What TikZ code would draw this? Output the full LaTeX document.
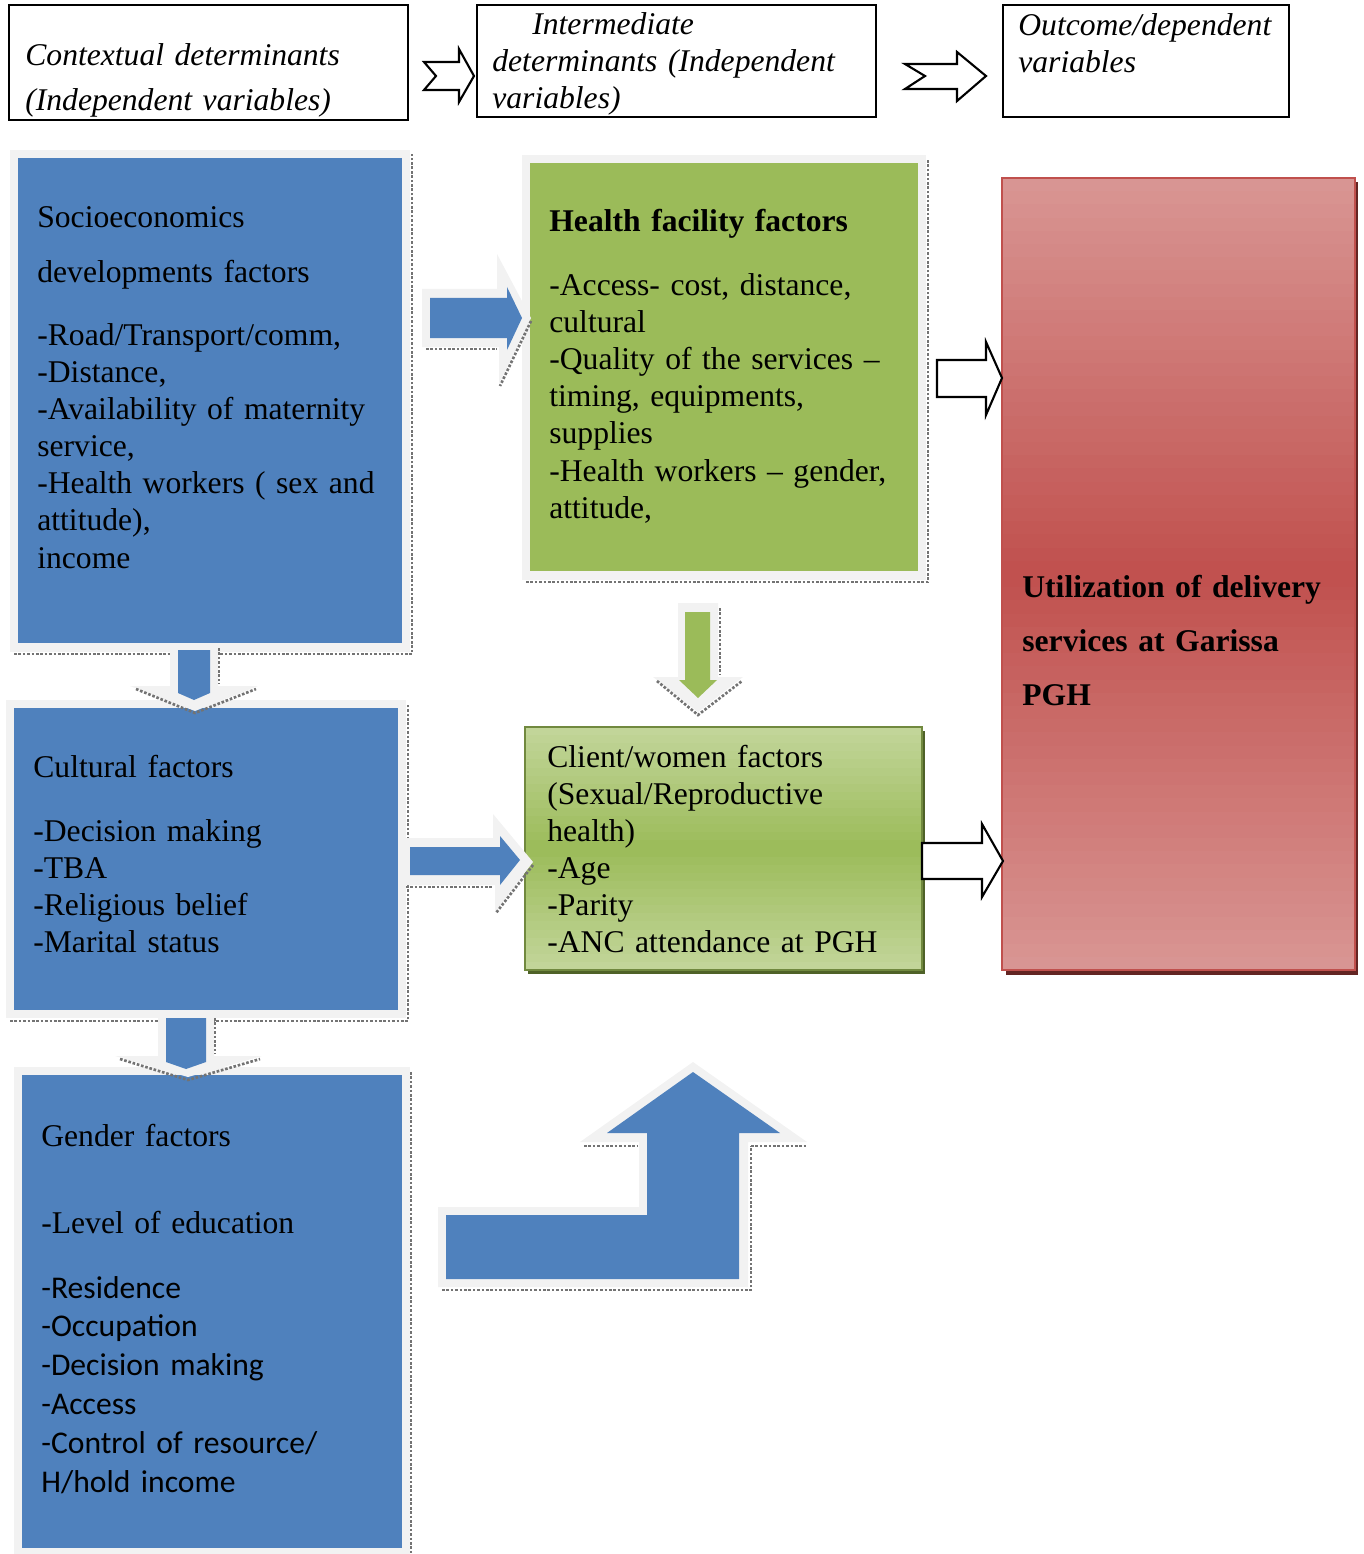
\documentclass[tikz,border=0pt]{standalone}
\usepackage{fontspec}
\setmainfont{Liberation Serif}
\newfontfamily\calibrifont{Carlito}
\definecolor{boxblue}{HTML}{4F81BD}
\definecolor{framegrey}{HTML}{F2F2F2}
\definecolor{boxgreen}{HTML}{9BBB59}
\definecolor{lightgreen}{HTML}{C3D69B}
\definecolor{greenedge}{HTML}{71893F}
\definecolor{darkgreen}{HTML}{4F6228}
\definecolor{lightred}{HTML}{D99694}
\definecolor{midred}{HTML}{C0504D}
\definecolor{darkred}{HTML}{632523}
\begin{document}
\begin{tikzpicture}[x=0.02cm, y=-0.02cm,
  txt/.style={anchor=base west, inner sep=0pt, text width=8cm, align=left,
    font=\fontsize{18pt}{21.06pt}\selectfont},
  italictxt/.style={txt, font=\fontsize{18pt}{21.06pt}\selectfont\itshape},
  headbox/.style={draw=black, line width=1.5pt},
  hollowarrow/.style={draw=black, line width=1.2pt, fill=white, line join=miter},
  glow/.style={fill=framegrey},
  shadowline/.style={densely dotted, line width=1.5pt, black!55}]

\useasboundingbox (0,0) rectangle (1364,1554);

% heading row
\draw[headbox] (9,5) rectangle (408,120);
\draw[headbox] (477,5) rectangle (876,117);
\draw[headbox] (1003,5) rectangle (1289,117);
\node[italictxt] (context) at (25,66) {Contextual determinants\\[0.16cm](Independent variables)};
\node[italictxt] (intermediate) at (492,35) {\hspace*{0.8cm}Intermediate\\determinants (Independent\\variables)};
\node[italictxt] (outcome) at (1018,36) {Outcome/dependent\\variables};
\draw[hollowarrow] (424,62) -- (459,62) -- (459,49) -- (474,76) -- (459,102) -- (459,90) -- (424,90) -- (436,76) -- cycle;
\draw[hollowarrow] (905,64) -- (957,64) -- (957,52) -- (986,76) -- (957,101) -- (957,89) -- (905,89) -- (925,76) -- cycle;

% contextual boxes
\fill[glow] (10,150) rectangle (410,652);
\draw[shadowline] (14,654) -- (412,654) -- (412,154);
\fill[boxblue] (18,158) rectangle (402,643);
\node[txt] (socio) at (37,228) {Socioeconomics\\[0.36cm]developments factors\\[0.52cm]-Road/Transport/comm,\\-Distance,\\-Availability of maternity\\service,\\-Health workers ( sex and\\attitude),\\income};

\fill[glow] (6,700) rectangle (406,1018);
\draw[shadowline] (10,1021) -- (408,1021) -- (408,704);
\fill[boxblue] (14,708) rectangle (398,1010);
\node[txt] (cultural) at (33,777) {Cultural factors\\[0.54cm]-Decision making\\-TBA\\-Religious belief\\-Marital status};

\fill[glow] (14,1067) rectangle (410,1554);
\draw[shadowline] (411,1072) -- (411,1554);
\fill[boxblue] (22,1075) rectangle (402,1548);
\node[txt] (gender) at (41,1146) {Gender factors\\[1.0cm]-Level of education};
\node[txt, font=\fontsize{18pt}{22.17pt}\calibrifont] (gendersans) at (41,1298) {-Residence\\-Occupation\\-Decision making\\-Access\\-Control of resource/\\H/hold income};

% intermediate boxes
\fill[glow] (522,155) rectangle (926,580);
\draw[shadowline] (526,582) -- (928,582) -- (928,160);
\fill[boxgreen] (530,163) rectangle (918,571);
\node[txt] (facility) at (549,232) {\textbf{Health facility factors}\\[0.54cm]-Access- cost, distance,\\cultural\\-Quality of the services –\\timing, equipments,\\supplies\\-Health workers – gender,\\attitude,};

\fill[darkgreen] (528,731) rectangle (925,974);
\foreach \i in {0,...,29}{
  \pgfmathtruncatemacro{\mix}{round(100*abs((\i+0.5)/15-1))}
  \fill[lightgreen!\mix!boxgreen] (525,{727+\i*8.1}) rectangle (922,{727+(\i+1)*8.1+0.6});
}
\draw[greenedge, line width=1pt] (525,727) rectangle (922,970);
\node[txt] (client) at (547,767) {Client/women factors\\(Sexual/Reproductive\\health)\\-Age\\-Parity\\-ANC attendance at PGH};

% outcome box
\fill[darkred] (1006,182) rectangle (1358,975);
\foreach \i in {0,...,59}{
  \pgfmathtruncatemacro{\mix}{round(100*abs((\i+0.5)/30-1))}
  \fill[lightred!\mix!midred] (1002,{178+\i*13.2}) rectangle (1355,{178+(\i+1)*13.2+0.6});
}
\draw[midred, line width=1pt] (1002,178) rectangle (1355,970);
\node[txt] (utilization) at (1022,597) {\textbf{Utilization of delivery}\\[0.35cm]\textbf{services at Garissa}\\[0.35cm]\textbf{PGH}};

% block arrows
\fill[glow] (422,289) -- (497,289) -- (497,254) -- (531,318) -- (499,384) -- (499,347) -- (422,347) -- cycle;
\fill[boxblue] (430,298) -- (507,298) -- (507,287) -- (522,318) -- (507,350) -- (507,338) -- (430,338) -- cycle;
\draw[shadowline] (426,349) -- (497,349);
\draw[shadowline] (531,321) -- (500,386);

\fill[glow] (404,838) -- (493,838) -- (493,814) -- (533,862) -- (495,912) -- (495,885) -- (404,885) -- cycle;
\fill[boxblue] (410,847) -- (500,847) -- (500,836) -- (520,860) -- (500,885) -- (500,875) -- (410,875) -- cycle;
\draw[shadowline] (406,887) -- (492,887);
\draw[shadowline] (533,865) -- (496,913);

\fill[glow] (170,643) -- (218,643) -- (218,686) -- (258,686) -- (195,711) -- (130,686) -- (170,686) -- cycle;
\fill[boxblue] (178,650) -- (210,650) -- (210,693) -- (194,700) -- (178,693) -- cycle;
\draw[shadowline] (219,648) -- (219,684);
\draw[shadowline] (136,689) -- (195,713) -- (256,689);

\fill[glow] (158,1012) -- (214,1012) -- (214,1056) -- (262,1056) -- (188,1077) -- (115,1056) -- (158,1056) -- cycle;
\fill[boxblue] (166,1018) -- (206,1018) -- (206,1062) -- (186,1069) -- (166,1062) -- cycle;
\draw[shadowline] (215,1018) -- (215,1054);
\draw[shadowline] (120,1059) -- (188,1080) -- (260,1059);

\fill[glow] (678,603) -- (718,603) -- (718,677) -- (743,677) -- (698,712) -- (653,677) -- (678,677) -- cycle;
\fill[boxgreen] (685,612) -- (710,612) -- (710,680) -- (717,680) -- (698,698) -- (679,680) -- (685,680) -- cycle;
\draw[shadowline] (720,608) -- (720,675);
\draw[shadowline] (657,681) -- (698,715) -- (742,681);

\fill[glow] (438,1207) -- (639,1207) -- (639,1142) -- (580,1142) -- (693,1062) -- (807,1142) -- (748,1142) -- (748,1287) -- (438,1287) -- cycle;
\fill[boxblue] (446,1215) -- (647,1215) -- (647,1133) -- (607,1133) -- (693,1072) -- (780,1133) -- (739,1133) -- (739,1279) -- (446,1279) -- cycle;
\draw[shadowline] (442,1290) -- (751,1290) -- (751,1146);
\draw[shadowline] (584,1146) -- (638,1146);
\draw[shadowline] (751,1146) -- (806,1146);

\draw[hollowarrow] (937,360) -- (986,360) -- (986,342) -- (1002,378) -- (986,415) -- (986,397) -- (937,397) -- cycle;
\draw[hollowarrow] (922,843) -- (982,843) -- (982,824) -- (1003,861) -- (982,897) -- (982,879) -- (922,879) -- cycle;
\end{tikzpicture}
\end{document}
